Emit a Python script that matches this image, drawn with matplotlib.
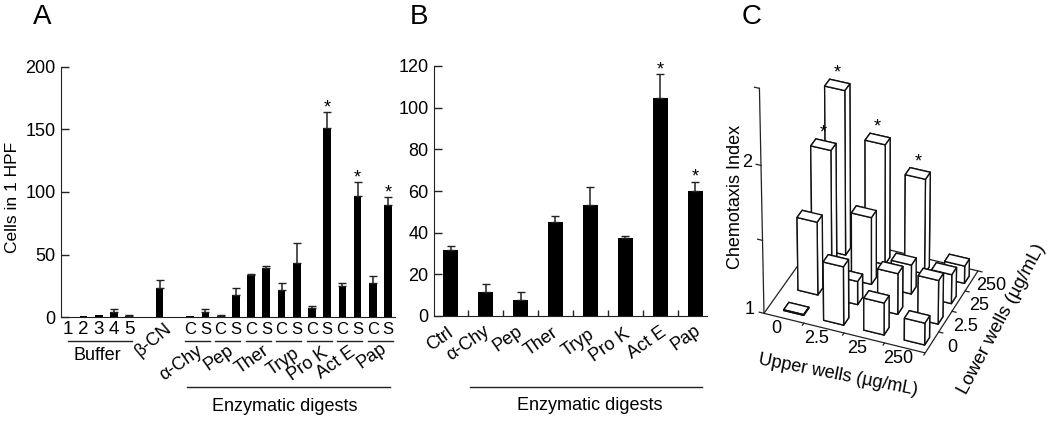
import numpy as np
import matplotlib
matplotlib.use('Agg')
import matplotlib.pyplot as plt
from mpl_toolkits.mplot3d import Axes3D, proj3d

plt.rcParams['font.family'] = ['Liberation Sans', 'DejaVu Sans']
plt.rcParams['font.size'] = 13

W, H = 1050, 423

# panel A
a_labels = ['1', '2', '3', '4', '5', 'β-CN', 'C', 'S', 'C', 'S', 'C', 'S', 'C', 'S', 'C', 'S', 'C', 'S', 'C', 'S']
a_pos = [0, 1, 2, 3, 4, 6, 8, 9, 10, 11, 12, 13, 14, 15, 16, 17, 18, 19, 20, 21]
a_vals = [0, 1, 2, 4, 0.5, 23, 1, 4, 0.5, 18, 34, 39, 22, 43, 7, 151, 25, 97, 27, 90]
a_err = [0, 0, 0, 2.5, 1.5, 7, 0, 2.5, 1.5, 5, 0.5, 2, 5, 16.5, 2, 13, 2, 11, 6, 6]
a_star = [15, 17, 19]
a_groups = ['α-Chy', 'Pep', 'Ther', 'Tryp', 'Pro K', 'Act E', 'Pap']
a_group_x = [7.4, 9.9, 12.1, 14.1, 15.75, 17.6, 19.9]
a_group_y = [-0.186, -0.164, -0.170, -0.180, -0.190, -0.183, -0.157]

# panel B
b_labels = ['Ctrl', 'α-Chy', 'Pep', 'Ther', 'Tryp', 'Pro K', 'Act E', 'Pap']
b_vals = [31.6, 11.3, 7.7, 45.2, 53.2, 37.5, 104.8, 60]
b_err = [2.1, 4.2, 3.6, 2.8, 8.8, 1, 11.2, 4.5]
b_star = [6, 7]
b_label_x = [-0.31, 0.5, 1.62, 2.6, 3.66, 4.57, 5.62, 6.72]
b_label_y = [-0.093, -0.109, -0.093, -0.102, -0.109, -0.116, -0.109, -0.089]

# panel C, rows are lower wells 0, 2.5, 25, 250 and columns upper wells 0, 2.5, 25, 250
c_ticks = ['0', '2.5', '25', '250']
c_vals = np.array([[1.005, 1.40, 1.22, 1.15],
                   [1.50, 1.16, 1.28, 1.30],
                   [1.85, 1.46, 1.20, 1.20],
                   [2.12, 1.82, 1.65, 1.12]])
c_star = [(3, 0), (2, 0), (3, 1), (3, 2)]


def px_axes(left, top, right, bottom, **kw):
    return fig.add_axes([left / W, 1 - bottom / H, (right - left) / W, (bottom - top) / H], **kw)


def px_text(x, y, s, **kw):
    fig.text(x / W, 1 - y / H, s, ha='center', va='center', **kw)


def style_bar_axes(ax):
    ax.spines['top'].set_visible(False)
    ax.spines['right'].set_visible(False)
    ax.spines['left'].set_color('#222222')
    ax.spines['bottom'].set_color('#222222')
    ax.tick_params(axis='y', direction='in', length=6, width=1, pad=4, labelsize=13, color='#222222')


def under_line(ax, x0, x1, y):
    ax.plot([x0, x1], [y, y], color='#222222', lw=1, transform=ax.get_xaxis_transform(), clip_on=False)


def under_text(ax, x, y, s, **kw):
    ax.text(x, y, s, ha='center', va='center', transform=ax.get_xaxis_transform(), clip_on=False, **kw)


def text_3d(ax, x, y, z, s, **kw):
    # flat text at the projected spot of a 3d point
    px, py, _ = proj3d.proj_transform(x, y, z, ax.get_proj())
    ax.text2D(px, py, s, transform=ax.transData, ha='center', va='center', zorder=5, clip_on=False, **kw)


fig = plt.figure(figsize=(W / 100, H / 100), dpi=100)

# A
ax = px_axes(61, 67, 395, 317)
style_bar_axes(ax)
ax.bar(a_pos, a_vals, width=0.5, color='black')
for x, v, e in zip(a_pos, a_vals, a_err):
    if e > 0:
        ax.errorbar(x, v, yerr=[[0], [e]], color='#222222', lw=1.1, capsize=2.6, capthick=1)
for i in a_star:
    ax.annotate('*', (a_pos[i], a_vals[i] + a_err[i]), xytext=(0, -3), textcoords='offset points',
                ha='center', va='bottom', fontsize=13)
ax.set_xlim(-0.48, 21.45)
ax.set_ylim(0, 200)
ax.set_yticks([0, 50, 100, 150, 200])
ax.set_xticks([])
for x, s in zip(a_pos, a_labels):
    if s == 'β-CN':
        under_text(ax, 5.6, -0.09, s, rotation=40, fontsize=13)
    else:
        under_text(ax, x, -0.05, s, fontsize=13.5 if s.isdigit() else 12)
under_line(ax, 0, 4.2, -0.097)
for g in range(7):
    under_line(ax, 7.65 + 2 * g, 9.3 + 2 * g, -0.097)
    under_text(ax, a_group_x[g], a_group_y[g], a_groups[g], rotation=35, fontsize=13)
under_text(ax, 1.9, -0.155, 'Buffer', fontsize=13)
under_line(ax, 7.8, 21.1, -0.28)
under_text(ax, 14.2, -0.358, 'Enzymatic digests', fontsize=13)
px_text(13, 197, 'Cells in 1 HPF', rotation=90, fontsize=12.5)
px_text(42, 17, 'A', fontsize=20)

# B
ax = px_axes(434, 66, 707, 316)
style_bar_axes(ax)
b_x = np.arange(len(b_vals))
ax.bar(b_x, b_vals, width=0.43, color='black')
ax.errorbar(b_x, b_vals, yerr=[np.zeros(len(b_err)), b_err], fmt='none', ecolor='#222222',
            elinewidth=1.1, capsize=3, capthick=1)
for i in b_star:
    ax.annotate('*', (b_x[i], b_vals[i] + b_err[i]), xytext=(0, -3), textcoords='offset points',
                ha='center', va='bottom', fontsize=13)
ax.set_xlim(-0.48, 7.34)
ax.set_ylim(0, 120)
ax.set_yticks([0, 20, 40, 60, 80, 100, 120])
ax.set_xticks(b_x[:-1] + 0.5)
ax.set_xticklabels([])
ax.tick_params(axis='x', direction='in', length=4.5, width=1, color='#222222')
for x, y, s in zip(b_label_x, b_label_y, b_labels):
    under_text(ax, x, y, s, rotation=35, fontsize=13)
under_line(ax, 0.55, 7.2, -0.285)
under_text(ax, 3.99, -0.36, 'Enzymatic digests', fontsize=13)
px_text(419, 17, 'B', fontsize=20)

# C
ax = px_axes(690, -2, 1044, 376, projection='3d')
ax.computed_zorder = False
ax.set_proj_type('persp', focal_length=2.0)
ax.view_init(elev=35, azim=-68)
ax.set_box_aspect((1, 0.85, 1.56), zoom=0.98)
ax.set_axis_off()
ax.patch.set_alpha(0)
ax.set_xlim(-0.5, 3.5)
ax.set_ylim(-0.5, 3.5)
ax.set_zlim(1, 2.5)
ax.set_xticks([])
ax.set_yticks([])
ax.set_zticks([])

xx, yy = np.meshgrid(np.arange(4), np.arange(4))
xs = xx.ravel() - 0.12
ys = yy.ravel() - 0.18
heights = c_vals.ravel() - 1
ax.bar3d(xs, ys, np.ones(16), 0.5, 0.36, heights, color='white', edgecolor='#111111',
         linewidth=1, shade=False, zorder=3)

floor_x = [-0.5, 3.5, 3.5, -0.5, -0.5]
floor_y = [-0.5, -0.5, 3.5, 3.5, -0.5]
ax.plot(floor_x, floor_y, [1] * 5, color='#222222', lw=0.9, zorder=1)
ax.plot([-0.5, -0.5], [-0.5, -0.5], [1, 2.5], color='#222222', lw=0.9, zorder=1)
for z in [1, 1.5, 2, 2.5]:
    ax.plot([-0.5, -0.62], [-0.5, -0.5], [z, z], color='#222222', lw=0.9, zorder=1)
for i in range(1, 5):
    ax.plot([i - 0.5, i - 0.5], [-0.5, -0.6], [1, 1], color='#222222', lw=0.9, zorder=1)
    ax.plot([3.5, 3.6], [i - 0.5, i - 0.5], [1, 1], color='#222222', lw=0.9, zorder=1)
for i, s in enumerate(c_ticks):
    text_3d(ax, i, -1.0, 1, s, fontsize=13)
    text_3d(ax, 4.0, i, 1, s, fontsize=13)
text_3d(ax, -0.85, -0.5, 1, '1', fontsize=13)
text_3d(ax, -0.85, -0.5, 2, '2', fontsize=13)
for r, c in c_star:
    text_3d(ax, c + 0.13, r, c_vals[r, c] + 0.08, '*', fontsize=13)
px_text(735, 197, 'Chemotaxis Index', rotation=90, fontsize=13)
px_text(838, 375, 'Upper wells (µg/mL)', rotation=-11, fontsize=13)
px_text(1002, 319, 'Lower wells (µg/mL)', rotation=62, fontsize=13.5)
px_text(752, 17, 'C', fontsize=20)

plt.savefig('out.png', dpi=100)
